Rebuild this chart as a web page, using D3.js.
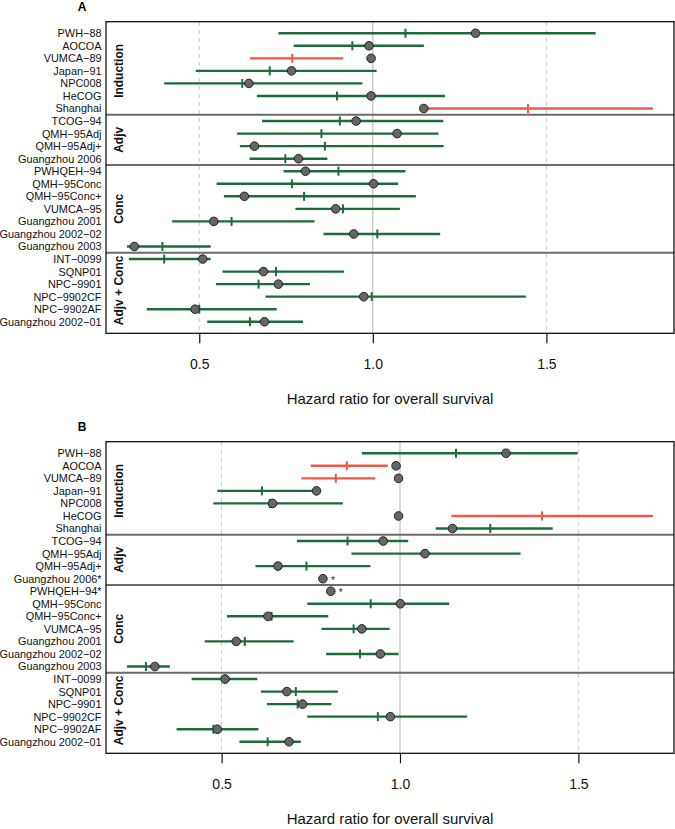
<!DOCTYPE html>
<html>
<head>
<meta charset="utf-8">
<script src="https://cdn.jsdelivr.net/npm/d3@7"></script>
<style>
  html, body { margin: 0; padding: 0; background: #fff; }
  svg { display: block; font-family: "Liberation Sans", Arial, Helvetica, sans-serif; }
</style>
</head>
<body>
<svg id="chart" width="675" height="829"></svg>
<script>
// ---------- data ----------
const studiesA = ["PWH−88","AOCOA","VUMCA−89","Japan−91","NPC008","HeCOG","Shanghai",
  "TCOG−94","QMH−95Adj","QMH−95Adj+","Guangzhou 2006",
  "PWHQEH−94","QMH−95Conc","QMH−95Conc+","VUMCA−95","Guangzhou 2001","Guangzhou 2002−02","Guangzhou 2003",
  "INT−0099","SQNP01","NPC−9901","NPC−9902CF","NPC−9902AF","Guangzhou 2002−01"];
const studiesB = ["PWH−88","AOCOA","VUMCA−89","Japan−91","NPC008","HeCOG","Shanghai",
  "TCOG−94","QMH−95Adj","QMH−95Adj+","Guangzhou 2006*",
  "PWHQEH−94*","QMH−95Conc","QMH−95Conc+","VUMCA−95","Guangzhou 2001","Guangzhou 2002−02","Guangzhou 2003",
  "INT−0099","SQNP01","NPC−9901","NPC−9902CF","NPC−9902AF","Guangzhou 2002−01"];
const groupLabels = ["Induction","Adjv","Conc","Adjv + Conc"];
const groupSizes = [7, 4, 7, 6];
const tickValues = [0.5, 1.0, 1.5];
const axisTitle = "Hazard ratio for overall survival";

// Panel A
const aLow   = [0.728,0.772,0.646,0.490,0.399,0.666,1.147, 0.681,0.609,0.617,0.645, 0.743,0.550,0.571,0.777,0.422,0.858,0.292, 0.297,0.567,0.548,0.691,0.349,0.523];
const aHigh  = [1.642,1.147,0.915,1.011,0.970,1.208,1.807, 1.203,1.189,1.204,0.869, 1.094,1.073,1.124,1.078,0.832,1.194,0.533, 0.533,0.917,0.819,1.441,0.723,0.799];
const aMark  = [1.094,0.941,0.768,0.703,0.624,0.897,1.447, 0.905,0.852,0.862,0.748, 0.901,0.767,0.802,0.914,0.593,1.013,0.394, 0.399,0.721,0.671,0.997,0.500,0.646];
const aPoint = [1.296,0.989,0.995,0.766,0.643,0.995,1.147, 0.952,1.070,0.659,0.786, 0.806,1.002,0.630,0.893,0.542,0.945,0.313, 0.510,0.685,0.728,0.974,0.488,0.688];
const aWorse = [0,0,1,0,0,0,1, 0,0,0,0, 0,0,0,0,0,0,0, 0,0,0,0,0,0];

// Panel B (null = no interval shown)
const bLow   = [0.893,0.750,0.724,0.488,0.477,1.144,1.100, 0.711,0.864,0.595,null, null,0.740,0.515,0.780,0.453,0.793,0.235, 0.416,0.610,0.627,0.740,0.374,0.550];
const bHigh  = [1.498,0.966,0.931,0.766,0.840,1.709,1.428, 1.023,1.338,0.917,null, null,1.138,0.799,0.971,0.702,0.996,0.355, 0.600,0.826,0.808,1.188,0.603,0.722];
const bMark  = [1.157,0.851,0.820,0.613,0.635,1.398,1.253, 0.853,1.070,0.738,null, null,0.918,0.640,0.870,0.565,0.888,0.288, 0.508,0.708,0.713,0.938,0.477,0.629];
const bPoint = [1.297,0.989,0.996,0.766,0.643,0.996,1.147, 0.953,1.070,0.658,0.784, 0.806,1.001,0.630,0.893,0.541,0.945,0.313, 0.510,0.683,0.727,0.973,0.488,0.689];
const bWorse = [0,1,1,0,0,1,0, 0,0,0,0, 0,0,0,0,0,0,0, 0,0,0,0,0,0];

// ---------- style ----------
const GREEN = "#1c6b3b", RED = "#ee5a45";
const svg = d3.select("#chart");

function panel(cfg) {
  const {letter, labels, low, high, mark, point, worse, top, bottom} = cfg;
  const left = 106, right = 674;
  const n = labels.length;
  const vals = [].concat(low, high, point).filter(v => v != null);
  const mn = d3.min(vals), mx = d3.max(vals), r = mx - mn;
  const x = d3.scaleLinear().domain([mn - 0.04 * r, mx + 0.04 * r]).range([left, right]);
  const yr = (n - 1) * 0.04;
  const y = d3.scaleLinear().domain([-yr, n - 1 + yr]).range([top, bottom]);
  const g = svg.append("g");

  // panel letter
  g.append("text").attr("x", 82).attr("y", top - 11).attr("text-anchor", "middle")
    .attr("font-weight", "bold").attr("font-size", 12).text(letter);

  // reference lines
  tickValues.forEach(t => {
    g.append("line").attr("x1", x(t)).attr("x2", x(t)).attr("y1", top).attr("y2", bottom)
      .attr("stroke", t === 1 ? "#b5b5b5" : "#c4c4c4").attr("stroke-width", 1)
      .attr("stroke-dasharray", t === 1 ? null : "4,4");
  });

  const idx = d3.range(n);
  const rows = g.append("g").selectAll("g").data(idx).join("g");

  rows.filter(i => low[i] != null).append("line")
    .attr("x1", i => x(low[i])).attr("x2", i => x(high[i]))
    .attr("y1", i => y(i)).attr("y2", i => y(i))
    .attr("stroke", i => worse[i] ? RED : GREEN).attr("stroke-width", 2.4);

  rows.filter(i => mark[i] != null).append("line")
    .attr("x1", i => x(mark[i])).attr("x2", i => x(mark[i]))
    .attr("y1", i => y(i) - 4.5).attr("y2", i => y(i) + 4.5)
    .attr("stroke", i => worse[i] ? RED : GREEN).attr("stroke-width", 2);

  rows.append("circle")
    .attr("cx", i => x(point[i])).attr("cy", i => y(i)).attr("r", 4.3)
    .attr("fill", "#666").attr("stroke", "#222").attr("stroke-width", 1);

  rows.filter(i => low[i] == null).append("text")
    .attr("x", i => x(point[i]) + 8).attr("y", i => y(i) + 5)
    .attr("font-size", 10).attr("fill", "#222").text("*");

  // row labels
  g.append("g").selectAll("text").data(idx).join("text")
    .attr("x", 101.5).attr("y", i => y(i)).attr("dy", "0.36em")
    .attr("text-anchor", "end").attr("font-size", 10.9).attr("fill", "#111")
    .text(i => labels[i]);

  // groups: separators and labels
  let start = 0;
  groupSizes.forEach((size, k) => {
    const end = start + size - 1;
    if (k > 0) {
      g.append("line").attr("x1", left).attr("x2", right)
        .attr("y1", y(start - 0.5)).attr("y2", y(start - 0.5))
        .attr("stroke", "#6b6b6b").attr("stroke-width", 2);
    }
    const yc = (y(start) + y(end)) / 2;
    g.append("text").attr("transform", `translate(123,${yc}) rotate(-90)`)
      .attr("text-anchor", "middle").attr("font-weight", "bold").attr("font-size", 12)
      .attr("fill", "#111").text(groupLabels[k]);
    start += size;
  });

  // box
  g.append("rect").attr("x", left).attr("y", top).attr("width", right - left).attr("height", bottom - top)
    .attr("fill", "none").attr("stroke", "#111").attr("stroke-width", 1.3);

  // axis
  const ax = g.append("g").attr("transform", `translate(0,${bottom})`)
    .call(d3.axisBottom(x).tickValues(tickValues).tickFormat(d3.format(".1f")).tickSize(10).tickPadding(16));
  ax.select(".domain").remove();
  ax.selectAll(".tick line").attr("stroke", "#111").attr("stroke-width", 1.2);
  ax.selectAll(".tick text").attr("font-size", 14).attr("fill", "#111")
    .attr("font-family", "'Liberation Sans', Arial, sans-serif");

  g.append("text").attr("x", (left + right) / 2).attr("y", bottom + 71)
    .attr("text-anchor", "middle").attr("font-size", 15).attr("fill", "#111").text(axisTitle);
}

panel({letter: "A", labels: studiesA, low: aLow, high: aHigh, mark: aMark, point: aPoint, worse: aWorse, top: 21.7, bottom: 333.3});
panel({letter: "B", labels: studiesB, low: bLow, high: bHigh, mark: bMark, point: bPoint, worse: bWorse, top: 441.7, bottom: 753.3});
</script>
</body>
</html>
